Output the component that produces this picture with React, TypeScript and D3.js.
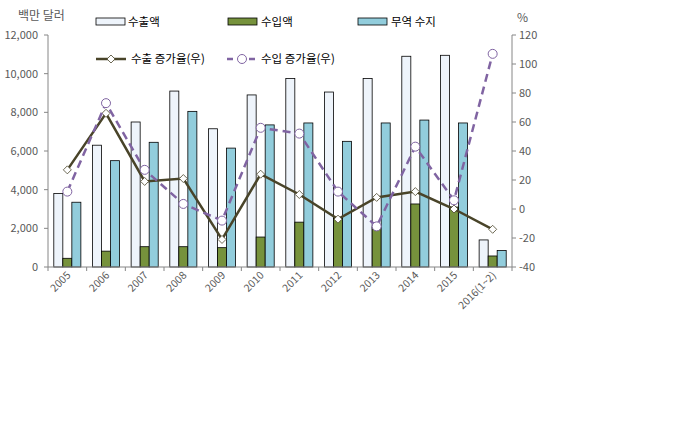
import * as d3 from "d3";

const years = ["2005", "2006", "2007", "2008", "2009", "2010", "2011", "2012", "2013", "2014", "2015", "2016(1~2)"];
const exportsAmt = [3800, 6300, 7500, 9100, 7150, 8900, 9750, 9050, 9750, 10900, 10950, 1400];
const importsAmt = [450, 820, 1050, 1050, 1000, 1550, 2320, 2530, 2070, 3260, 3100, 570];
const balanceAmt = [3350, 5500, 6450, 8050, 6150, 7350, 7450, 6500, 7450, 7600, 7450, 850];
const exportGrowth = [27, 66, 19, 21, -21, 24, 10, -7, 8, 12, 0, -14];
const importGrowth = [12, 73, 27, 3.5, -8, 56, 52, 12, -12, 43, 6, 107];
const leftTicks = [0, 2000, 4000, 6000, 8000, 10000, 12000];
const rightTicks = [-40, -20, 0, 20, 40, 60, 80, 100, 120];

const font = "'Noto Sans CJK KR', 'Noto Sans', sans-serif";
const textColor = "#595959";
const axisColor = "#868686";

export default function App() {
  const width = 700;
  const height = 429;
  const left = 48;
  const right = 512;
  const top = 35;
  const bottom = 267;

  const x = d3.scaleBand<string>().domain(years).range([left, right]).paddingInner(0.3).paddingOuter(0.15);
  const step = x.step();
  const bw = x.bandwidth() / 3;
  const yL = d3.scaleLinear([0, 12000], [bottom, top]);
  const yR = d3.scaleLinear([-40, 120], [bottom, top]);
  const cx = (i: number) => (x(years[i]) as number) + x.bandwidth() / 2;

  const line = d3.line<number>().x((d, i) => cx(i)).y((d) => yR(d));
  const fmt = d3.format(",");

  const series = [
    { vals: exportsAmt, fill: "#EEF4FB", stroke: "#000" },
    { vals: importsAmt, fill: "#76923C", stroke: "#000" },
    { vals: balanceAmt, fill: "#92CDDC", stroke: "#000" },
  ];

  const diamond = (px: number, py: number, r = 4) =>
    `M${px},${py - r}L${px + r},${py}L${px},${py + r}L${px - r},${py}Z`;

  return (
    <svg width={width} height={height} style={{ position: "absolute", left: 0, top: 0, background: "#fff" }} fontFamily={font}>
      <text x={18} y={20} fontSize={12} fill={textColor}>백만 달러</text>
      <text x={517} y={22} fontSize={12} fill={textColor}>%</text>

      {/* left axis */}
      <line x1={left} x2={left} y1={top} y2={bottom} stroke={axisColor} />
      {leftTicks.map((t) => (
        <g key={t}>
          <line x1={left - 4} x2={left} y1={yL(t)} y2={yL(t)} stroke={axisColor} />
          <text x={38} y={yL(t) + 4} fontSize={11} textAnchor="end" fill={textColor}>{fmt(t)}</text>
        </g>
      ))}
      {/* right axis */}
      <line x1={right} x2={right} y1={top} y2={bottom} stroke={axisColor} />
      {rightTicks.map((t) => (
        <g key={t}>
          <line x1={right} x2={right + 4} y1={yR(t)} y2={yR(t)} stroke={axisColor} />
          <text x={519} y={yR(t) + 4} fontSize={11} fill={textColor}>{t}</text>
        </g>
      ))}

      {/* bars */}
      {series.map((s, k) => (
        <g key={k}>
          {s.vals.map((v, i) => (
            <rect key={i} x={(x(years[i]) as number) + k * bw} y={yL(v)} width={bw} height={bottom - yL(v)}
              fill={s.fill} stroke={s.stroke} strokeWidth={0.8} />
          ))}
        </g>
      ))}

      {/* x axis */}
      <line x1={left} x2={right} y1={bottom} y2={bottom} stroke={axisColor} />
      {d3.range(13).map((i) => (
        <line key={i} x1={left + i * step} x2={left + i * step} y1={bottom} y2={bottom + 4} stroke={axisColor} />
      ))}
      {years.map((yr, i) => (
        <text key={yr} transform={`translate(${cx(i) + 4},${bottom + 9}) rotate(-45)`} fontSize={10.5}
          textAnchor="end" fill={textColor}>{yr}</text>
      ))}

      {/* lines */}
      <path d={line(exportGrowth) as string} fill="none" stroke="#494429" strokeWidth={2.5} />
      {exportGrowth.map((v, i) => (
        <path key={i} d={diamond(cx(i), yR(v))} fill="#fff" stroke="#494429" strokeWidth={0.8} />
      ))}
      <path d={line(importGrowth) as string} fill="none" stroke="#8064A2" strokeWidth={2.5} strokeDasharray="8,5" />
      {importGrowth.map((v, i) => (
        <circle key={i} cx={cx(i)} cy={yR(v)} r={4.5} fill="#fff" stroke="#8064A2" strokeWidth={1} />
      ))}

      {/* legend */}
      <rect x={96} y={18} width={29} height={7} fill="#EEF4FB" stroke="#000" strokeWidth={0.8} />
      <text x={128} y={26} fontSize={11.5} fill="#000">수출액</text>
      <rect x={228} y={18} width={29} height={7} fill="#76923C" stroke="#000" strokeWidth={0.8} />
      <text x={261} y={26} fontSize={11.5} fill="#000">수입액</text>
      <rect x={358} y={18} width={29} height={7} fill="#92CDDC" stroke="#000" strokeWidth={0.8} />
      <text x={391} y={26} fontSize={11.5} fill="#000">무역 수지</text>

      <line x1={96} x2={126} y1={59} y2={59} stroke="#494429" strokeWidth={2.5} />
      <path d={diamond(111, 59)} fill="#fff" stroke="#494429" strokeWidth={0.8} />
      <text x={131} y={63} fontSize={11.5} fill="#000">수출 증가율(우)</text>
      <line x1={227} x2={257} y1={59} y2={59} stroke="#8064A2" strokeWidth={2.5} strokeDasharray="6,5" />
      <circle cx={242} cy={59} r={4.5} fill="#fff" stroke="#8064A2" strokeWidth={1} />
      <text x={261} y={63} fontSize={11.5} fill="#000">수입 증가율(우)</text>
    </svg>
  );
}
